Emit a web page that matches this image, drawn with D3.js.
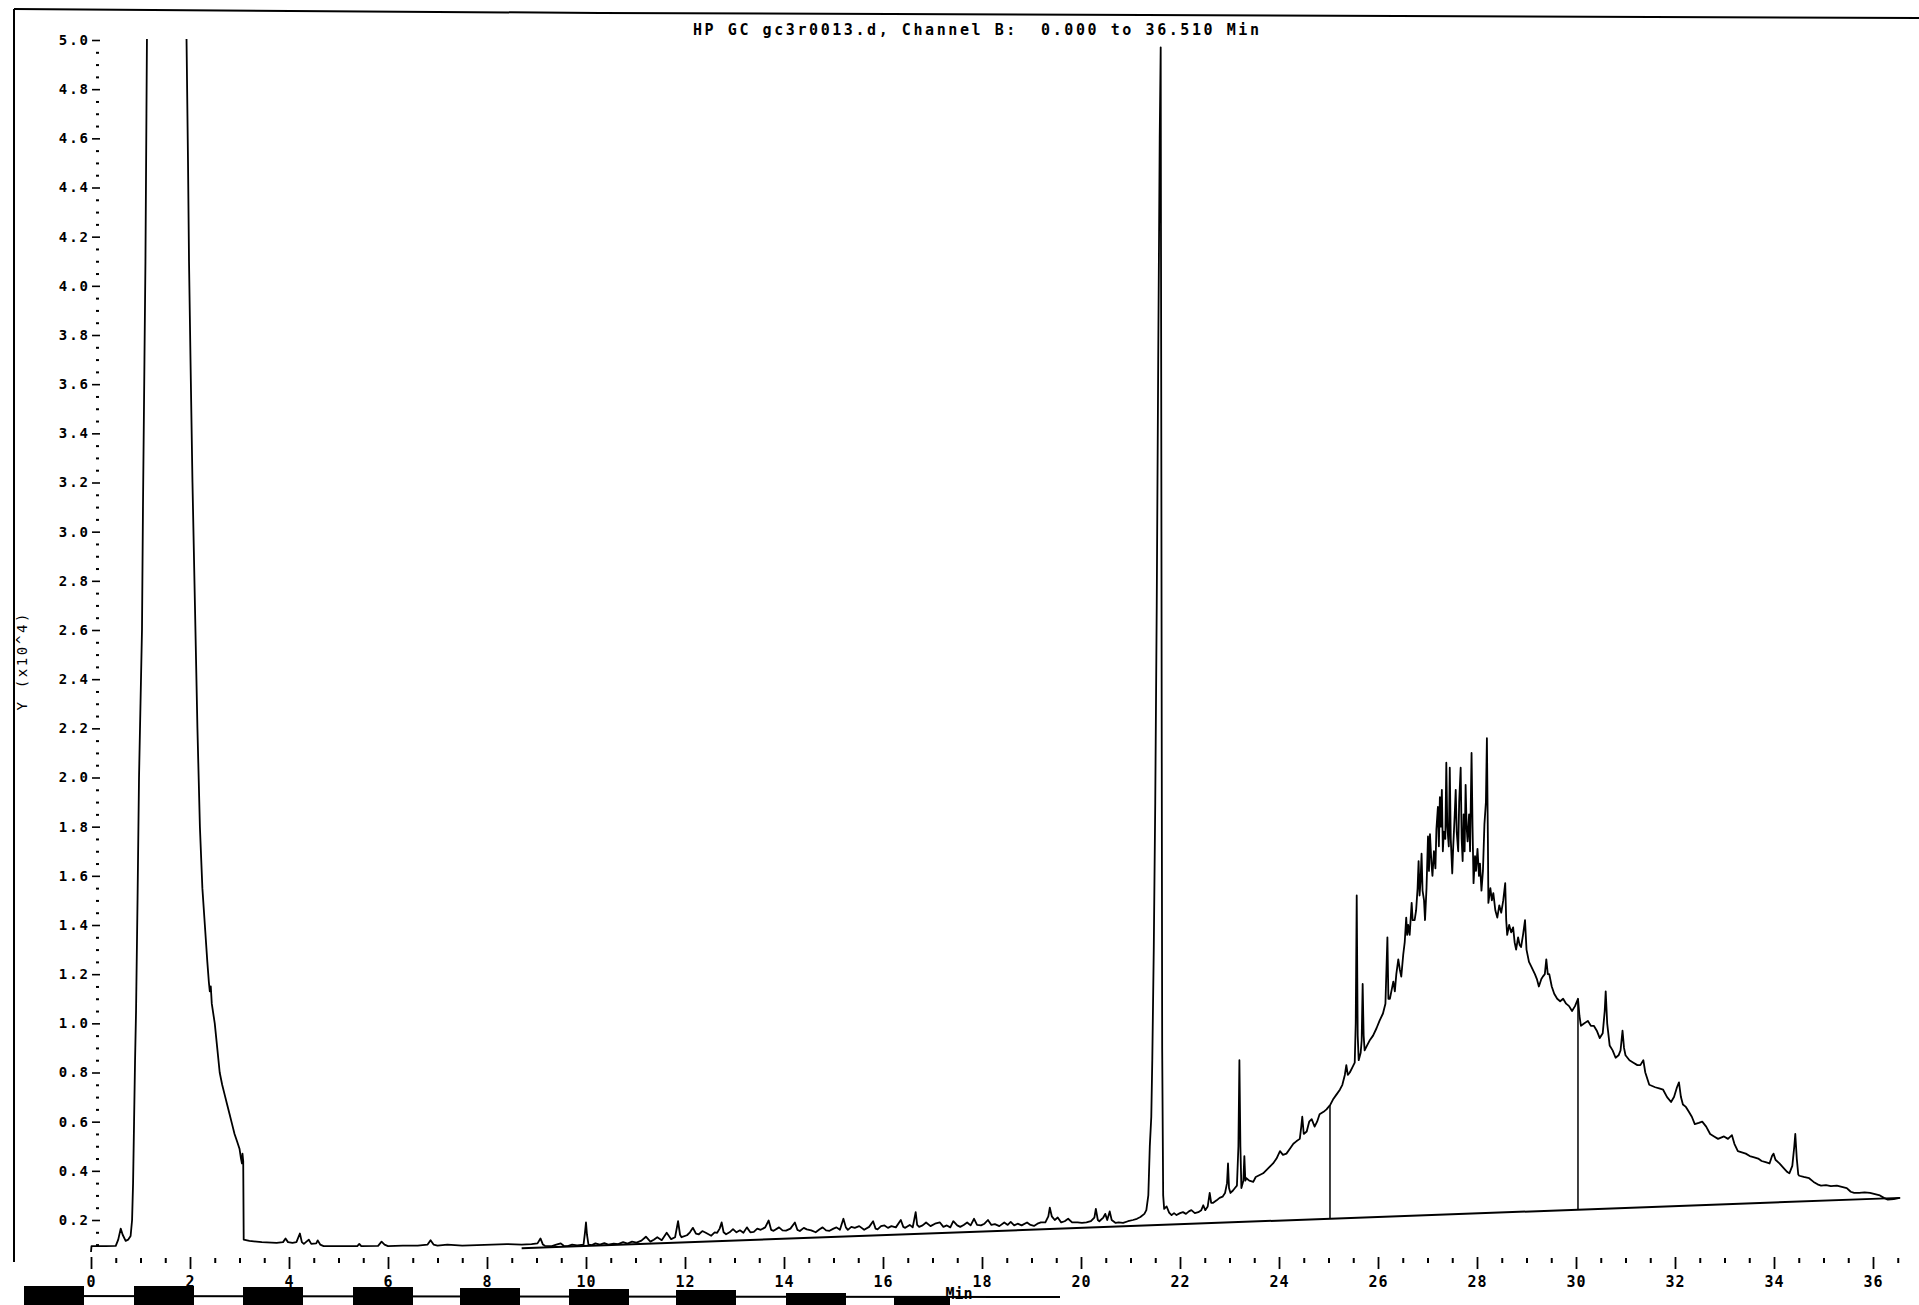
<!DOCTYPE html>
<html><head><meta charset="utf-8">
<script src="https://cdn.jsdelivr.net/npm/d3@7"></script>
<style>
html,body{margin:0;padding:0;background:#fff;}
svg{display:block;}
text{font-family:"DejaVu Sans Mono","Liberation Mono",monospace;fill:#000;}
</style></head><body>
<svg id="chart" width="1919" height="1305"></svg>
<script>
// ---------------- text ----------------
const titleText = "HP GC gc3r0013.d, Channel B:  0.000 to 36.510 Min";
const yAxisTitle = "Y (x10^4)";
const xAxisTitle = "Min";

// ---------------- ticks ----------------
const yTickValues = [0.2,0.4,0.6,0.8,1.0,1.2,1.4,1.6,1.8,2.0,2.2,2.4,2.6,2.8,3.0,3.2,3.4,3.6,3.8,4.0,4.2,4.4,4.6,4.8,5.0];
const xTickValues = [0,2,4,6,8,10,12,14,16,18,20,22,24,26,28,30,32,34,36];

// ---------------- signal (retention time [min], response [x10^4]) ----------------
const solventRegion = [
 [0.00,0.070],[0.01,0.094],[0.30,0.094],[0.50,0.095],[0.55,0.120],[0.60,0.165],[0.64,0.140],[0.70,0.115],
 [0.75,0.120],[0.80,0.135],[0.83,0.200],[0.85,0.350],[0.87,0.600],[0.89,0.850],[0.91,1.050],[0.94,1.500],
 [0.97,2.000],[1.00,2.300],[1.03,2.600],[1.05,3.100],[1.08,3.700],[1.10,4.100],[1.12,4.700],[1.13,5.000],
 [1.15,5.600],[1.50,6.000],[1.90,5.600],[1.93,5.000],[1.96,4.500],[1.98,4.100],[2.01,3.700],[2.05,3.200],
 [2.10,2.700],[2.15,2.200],[2.20,1.800],[2.25,1.550],[2.30,1.400],[2.35,1.250],[2.38,1.170],[2.40,1.130],
 [2.42,1.150],[2.44,1.080],[2.50,1.000],[2.55,0.900],[2.60,0.800],[2.65,0.750],[2.70,0.710],[2.75,0.670],
 [2.80,0.630],[2.85,0.590],[2.90,0.550],[2.95,0.520],[3.00,0.490],[3.03,0.450],[3.05,0.430],[3.06,0.470],
 [3.075,0.440],[3.085,0.120],[3.20,0.115],[3.45,0.110],[3.75,0.107],[3.88,0.110],[3.93,0.125],[3.98,0.110],
 [4.07,0.107],[4.15,0.110],[4.22,0.145],[4.26,0.110],[4.30,0.103],[4.40,0.120],[4.45,0.103],[4.55,0.105],
 [4.58,0.117],[4.63,0.100],[4.70,0.094],[5.38,0.094],[5.42,0.103],[5.46,0.094],[5.80,0.095],[5.87,0.112],
 [5.93,0.100],[6.00,0.094],[6.30,0.096],[6.60,0.096],[6.80,0.100],[6.86,0.118],[6.92,0.100],[7.00,0.096],
 [7.20,0.100],[7.50,0.096],[7.80,0.098],[8.10,0.100],[8.40,0.102],[8.70,0.100],[8.90,0.102],[9.02,0.105],
 [9.08,0.125],[9.13,0.100]
];
const midRegion = [
 [9.17,0.095],[9.31,0.094],[9.40,0.100],[9.49,0.105],[9.55,0.095],[9.63,0.094],[9.72,0.100],[9.82,0.097],
 [9.95,0.100],[9.98,0.150],[10.00,0.190],[10.02,0.140],[10.05,0.100],[10.12,0.098],[10.19,0.105],[10.28,0.100],
 [10.37,0.106],[10.45,0.100],[10.56,0.104],[10.65,0.102],[10.75,0.110],[10.84,0.104],[10.93,0.112],[11.02,0.108],
 [11.12,0.116],[11.21,0.132],[11.30,0.112],[11.37,0.120],[11.44,0.130],[11.53,0.118],[11.63,0.148],[11.72,0.122],
 [11.80,0.130],[11.86,0.195],[11.90,0.140],[11.93,0.130],[12.04,0.138],[12.10,0.150],[12.16,0.168],[12.22,0.145],
 [12.28,0.142],[12.35,0.155],[12.42,0.148],[12.53,0.136],[12.60,0.150],[12.65,0.148],[12.70,0.165],[12.74,0.190],
 [12.78,0.150],[12.83,0.142],[12.90,0.150],[12.97,0.163],[13.04,0.150],[13.11,0.158],[13.18,0.148],[13.25,0.170],
 [13.32,0.150],[13.39,0.152],[13.46,0.165],[13.53,0.160],[13.62,0.170],[13.69,0.198],[13.74,0.160],[13.79,0.156],
 [13.90,0.170],[13.97,0.158],[14.04,0.157],[14.13,0.165],[14.22,0.190],[14.27,0.160],[14.32,0.155],[14.40,0.168],
 [14.46,0.162],[14.55,0.158],[14.64,0.150],[14.72,0.162],[14.78,0.170],[14.85,0.158],[14.92,0.156],[15.00,0.165],
 [15.06,0.170],[15.13,0.160],[15.20,0.205],[15.25,0.170],[15.29,0.160],[15.36,0.172],[15.43,0.168],[15.52,0.175],
 [15.62,0.160],[15.72,0.172],[15.80,0.195],[15.85,0.165],[15.89,0.162],[15.96,0.175],[16.03,0.178],[16.10,0.168],
 [16.17,0.175],[16.26,0.170],[16.36,0.200],[16.41,0.172],[16.45,0.168],[16.54,0.180],[16.60,0.170],[16.66,0.232],
 [16.69,0.180],[16.73,0.172],[16.80,0.178],[16.87,0.190],[16.96,0.175],[17.05,0.185],[17.15,0.190],[17.22,0.172],
 [17.29,0.178],[17.36,0.170],[17.42,0.195],[17.50,0.178],[17.56,0.172],[17.63,0.180],[17.70,0.190],[17.77,0.178],
 [17.84,0.205],[17.90,0.180],[17.98,0.178],[18.05,0.185],[18.12,0.200],[18.19,0.180],[18.26,0.183],[18.35,0.175],
 [18.45,0.190],[18.52,0.180],[18.58,0.192],[18.65,0.178],[18.72,0.185],[18.80,0.178],[18.91,0.190],[18.98,0.180],
 [19.05,0.176],[19.12,0.185],[19.19,0.190],[19.28,0.190],[19.34,0.215],[19.37,0.250],[19.41,0.215],[19.47,0.200],
 [19.53,0.210],[19.60,0.190],[19.67,0.195],[19.74,0.205],[19.82,0.190],[19.93,0.190],[20.02,0.188],[20.11,0.190],
 [20.20,0.195],[20.27,0.210],[20.30,0.245],[20.34,0.200],[20.37,0.195],[20.45,0.210],[20.49,0.225],[20.53,0.200],
 [20.58,0.235],[20.62,0.200],[20.70,0.188],[20.76,0.190],[20.85,0.188],[20.95,0.195],[21.05,0.200],[21.13,0.205],
 [21.20,0.212],[21.28,0.225],[21.32,0.240]
];
const mainPeak = [
 [21.36,0.300],[21.39,0.500],[21.42,0.620],[21.44,0.850],[21.47,1.300],[21.50,1.900],[21.53,2.700],[21.56,3.700],
 [21.59,4.600],[21.61,4.970],[21.625,3.000],[21.64,0.900],[21.66,0.300],[21.68,0.245]
];
const humpRegion = [
 [21.73,0.255],[21.78,0.230],[21.83,0.220],[21.88,0.228],[21.93,0.220],[22.00,0.228],[22.06,0.232],
 [22.12,0.225],[22.18,0.235],[22.23,0.240],[22.30,0.228],[22.37,0.232],[22.43,0.240],[22.47,0.260],[22.51,0.240],
 [22.56,0.255],[22.60,0.310],[22.63,0.270],[22.67,0.270],[22.74,0.280],[22.80,0.290],[22.86,0.295],[22.91,0.310],
 [22.95,0.350],[22.97,0.430],[22.99,0.330],[23.02,0.310],[23.07,0.320],[23.11,0.330],[23.15,0.340],[23.18,0.500],
 [23.20,0.850],[23.22,0.500],[23.24,0.330],[23.28,0.360],[23.30,0.460],[23.32,0.360],[23.34,0.370],[23.40,0.360],
 [23.48,0.355],[23.53,0.375],[23.58,0.380],[23.63,0.385],[23.68,0.390],[23.73,0.400],[23.78,0.410],[23.83,0.420],
 [23.88,0.430],[23.95,0.450],[24.02,0.480],[24.08,0.465],[24.15,0.470],[24.22,0.490],[24.29,0.510],[24.35,0.520],
 [24.42,0.530],[24.45,0.580],[24.47,0.620],[24.50,0.550],[24.56,0.560],[24.61,0.600],[24.66,0.610],[24.72,0.580],
 [24.77,0.600],[24.82,0.630],[24.90,0.640],[24.96,0.650],[25.04,0.670],[25.09,0.690],[25.16,0.710],[25.23,0.730],
 [25.28,0.750],[25.33,0.790],[25.36,0.830],[25.39,0.790],[25.43,0.800],[25.48,0.820],[25.53,0.840],[25.55,1.000],
 [25.57,1.520],[25.59,0.950],[25.61,0.850],[25.65,0.880],[25.67,0.930],[25.69,1.160],[25.71,0.950],[25.73,0.890],
 [25.78,0.910],[25.83,0.930],[25.90,0.950],[25.97,0.980],[26.03,1.010],[26.10,1.040],[26.15,1.080],[26.19,1.350],
 [26.21,1.100],[26.24,1.100],[26.28,1.140],[26.31,1.170],[26.34,1.130],[26.37,1.200],[26.41,1.260],[26.44,1.220],
 [26.47,1.190],[26.51,1.280],[26.54,1.330],[26.57,1.430],[26.59,1.360],[26.61,1.400],[26.64,1.360],[26.68,1.490],
 [26.70,1.420],[26.74,1.420],[26.77,1.460],[26.80,1.550],[26.82,1.660],[26.84,1.520],[26.86,1.580],[26.88,1.690],
 [26.90,1.540],[26.93,1.500],[26.95,1.420],[26.98,1.550],[27.01,1.760],[27.03,1.620],[27.05,1.770],[27.08,1.650],
 [27.10,1.600],[27.13,1.700],[27.16,1.630],[27.18,1.790],[27.21,1.880],[27.23,1.720],[27.25,1.920],[27.27,1.800],
 [27.29,1.950],[27.31,1.700],[27.33,1.780],[27.36,1.750],[27.38,2.060],[27.40,1.800],[27.43,1.720],[27.45,2.040],
 [27.47,1.750],[27.50,1.610],[27.52,1.720],[27.55,1.850],[27.57,1.950],[27.59,1.780],[27.62,1.700],[27.64,1.900],
 [27.67,2.040],[27.69,1.750],[27.71,1.660],[27.73,1.850],[27.75,1.700],[27.77,1.970],[27.79,1.800],[27.81,1.740],
 [27.84,1.850],[27.86,1.700],[27.89,2.100],[27.91,1.800],[27.93,1.570],[27.96,1.680],[27.98,1.620],[28.01,1.710],
 [28.04,1.600],[28.06,1.650],[28.09,1.540],[28.12,1.620],[28.15,1.810],[28.18,1.900],[28.20,2.160],[28.22,1.750],
 [28.23,1.490],[28.27,1.550],[28.30,1.500],[28.33,1.530],[28.37,1.460],[28.41,1.430],[28.45,1.480],[28.49,1.450],
 [28.53,1.500],[28.57,1.570],[28.59,1.420],[28.61,1.360],[28.65,1.400],[28.69,1.370],[28.73,1.390],[28.76,1.330],
 [28.79,1.300],[28.83,1.350],[28.86,1.320],[28.89,1.310],[28.93,1.360],[28.97,1.420],[29.00,1.300],[29.05,1.250],
 [29.10,1.230],[29.17,1.200],[29.21,1.180],[29.25,1.150],[29.30,1.180],[29.33,1.190],[29.37,1.200],[29.40,1.260],
 [29.43,1.200],[29.46,1.200],[29.51,1.150],[29.56,1.120],[29.62,1.100],[29.68,1.090],[29.74,1.100],[29.80,1.080],
 [29.86,1.070],[29.92,1.050],[29.98,1.070],[30.04,1.100],[30.07,1.030],[30.10,0.990],[30.17,1.000],[30.24,1.010],
 [30.30,0.990],[30.36,0.990],[30.42,0.970],[30.48,0.940],[30.54,0.960],[30.58,1.050],[30.60,1.130],[30.63,1.000],
 [30.68,0.910],[30.74,0.890],[30.80,0.860],[30.86,0.870],[30.90,0.890],[30.94,0.970],[30.97,0.900],[31.00,0.870],
 [31.08,0.850],[31.16,0.840],[31.24,0.830],[31.30,0.830],[31.36,0.850],[31.40,0.800],[31.48,0.750],[31.54,0.745],
 [31.60,0.740],[31.68,0.735],[31.76,0.730],[31.84,0.700],[31.92,0.680],[31.98,0.700],[32.04,0.740],[32.08,0.760],
 [32.12,0.700],[32.16,0.670],[32.22,0.660],[32.28,0.640],[32.34,0.620],[32.40,0.590],[32.48,0.595],[32.55,0.600],
 [32.63,0.580],[32.71,0.550],[32.79,0.540],[32.87,0.530],[32.93,0.535],[32.99,0.540],[33.07,0.530],[33.15,0.545],
 [33.20,0.510],[33.27,0.480],[33.35,0.475],[33.43,0.470],[33.51,0.460],[33.60,0.455],[33.68,0.450],[33.75,0.440],
 [33.83,0.435],[33.91,0.430],[33.96,0.460],[33.99,0.470],[34.03,0.445],[34.11,0.430],[34.20,0.410],[34.27,0.395],
 [34.31,0.390],[34.37,0.420],[34.41,0.500],[34.43,0.550],[34.46,0.450],[34.49,0.385],[34.51,0.380],[34.60,0.375],
 [34.71,0.370],[34.80,0.355],[34.88,0.345],[34.95,0.340],[35.05,0.342],[35.15,0.338],[35.27,0.340],[35.37,0.335],
 [35.47,0.330],[35.55,0.315],[35.62,0.310],[35.72,0.310],[35.83,0.312],[35.94,0.310],[36.04,0.305],[36.14,0.300],
 [36.22,0.290],[36.30,0.283],[36.42,0.285],[36.54,0.290]
];
// integrator baseline and the two drop-line marks
const baselineSegment = [[8.70,0.085],[36.55,0.290]];
const integrationMarks = [25.03, 30.04];

// ---------------- drawing ----------------
const svg = d3.select("#chart");
const x = d3.scaleLinear().domain([0, 36]).range([91, 1873]);
const y = d3.scaleLinear().domain([0.2, 5.0]).range([1220, 40]);

svg.append("rect").attr("width",1919).attr("height",1305).attr("fill","#fff");

// frame lines of the scanned print
svg.append("path").attr("d","M14,9 L600,13 L1919,18").attr("fill","none").attr("stroke","#000").attr("stroke-width",2);
svg.append("line").attr("x1",14).attr("y1",9).attr("x2",14).attr("y2",1262).attr("stroke","#000").attr("stroke-width",2);

// title
svg.append("text").attr("x",693).attr("y",35).attr("font-size",15).attr("font-weight","bold")
  .attr("textLength",566).attr("lengthAdjust","spacing").style("white-space","pre").text(titleText);

// y axis title
svg.append("text").attr("transform","translate(27,662) rotate(-90)").attr("text-anchor","middle")
  .attr("font-size",14).attr("textLength",97).attr("lengthAdjust","spacing").text(yAxisTitle);

// y axis (ticks only)
const yMinor = d3.range(2, 101).map(i => i*0.05).filter(v => Math.abs(v*5 - Math.round(v*5)) > 1e-6);
const gyMinor = svg.append("g").attr("transform","translate(99,0)")
  .call(d3.axisLeft(y).tickValues(yMinor).tickSize(3).tickFormat(""));
gyMinor.select(".domain").remove();
gyMinor.selectAll("line").attr("stroke","#000").attr("stroke-width",2);

const gy = svg.append("g").attr("transform","translate(100,0)")
  .call(d3.axisLeft(y).tickValues(yTickValues).tickFormat(d3.format(".1f")).tickSize(8).tickPadding(2));
gy.select(".domain").remove();
gy.selectAll("line").attr("stroke","#000").attr("stroke-width",1.6);
gy.selectAll("text").attr("font-size",14).attr("font-weight","bold").attr("letter-spacing","2px")
  .attr("font-family","DejaVu Sans Mono").attr("fill","#000");

// x axis (ticks only)
const xMinor = d3.range(1, 74).map(i => i*0.5).filter(v => v % 2 !== 0);
const gxMinor = svg.append("g").attr("transform","translate(0,1258)")
  .call(d3.axisBottom(x).tickValues(xMinor).tickSize(5).tickFormat(""));
gxMinor.select(".domain").remove();
gxMinor.selectAll("line").attr("stroke","#000").attr("stroke-width",2);

const gx = svg.append("g").attr("transform","translate(0,1257)")
  .call(d3.axisBottom(x).tickValues(xTickValues).tickSize(12).tickPadding(7).tickFormat(d3.format("d")));
gx.select(".domain").remove();
gx.selectAll("line").attr("stroke","#000").attr("stroke-width",1.8);
gx.selectAll("text").attr("font-size",15).attr("font-weight","bold").attr("letter-spacing","1px")
  .attr("font-family","DejaVu Sans Mono").attr("fill","#000");

// chart clip (values over full scale are cut at the top)
svg.append("clipPath").attr("id","plotClip").append("rect")
  .attr("x",0).attr("y",y(5.0)-1).attr("width",1919).attr("height",1305);

const plot = svg.append("g").attr("clip-path","url(#plotClip)");
const signal = solventRegion.concat(midRegion, mainPeak, humpRegion);
const line = d3.line().x(d => x(d[0])).y(d => y(d[1]));

// integrator baseline
plot.append("path").datum(baselineSegment).attr("d", line)
  .attr("fill","none").attr("stroke","#000").attr("stroke-width",2);

// drop lines
const bis = d3.bisector(d => d[0]).left;
function signalAt(t){
  const i = bis(signal, t);
  const a = signal[i-1], b = signal[i];
  return a[1] + (b[1]-a[1])*(t-a[0])/(b[0]-a[0]);
}
function baseAt(t){
  const [a,b] = baselineSegment;
  return a[1] + (b[1]-a[1])*(t-a[0])/(b[0]-a[0]);
}
plot.selectAll(".drop").data(integrationMarks).join("line").attr("class","drop")
  .attr("x1", d => x(d)).attr("x2", d => x(d))
  .attr("y1", d => y(baseAt(d))).attr("y2", d => y(signalAt(d)))
  .attr("stroke","#000").attr("stroke-width",1.5);

// chromatogram trace
plot.append("path").datum(signal).attr("d", line)
  .attr("fill","none").attr("stroke","#000").attr("stroke-width",1.8).attr("stroke-linejoin","round");

// bottom strip of the print (event bars) and x title
const strip = svg.append("g");
const barLefts = [24,134,243,353,460,569,676,786,894];
const barTops = [1286,1286,1287,1287,1288,1289,1290,1293,1297];
strip.append("line").attr("x1",24).attr("x2",1060).attr("y1",1296).attr("y2",1297)
  .attr("stroke","#000").attr("stroke-width",2);
barLefts.forEach((bx,i) => {
  strip.append("rect").attr("x",bx).attr("y",barTops[i]).attr("width",i<8?60:56).attr("height",1305-barTops[i]).attr("fill","#000");
});
svg.append("text").attr("x",959).attr("y",1299).attr("text-anchor","middle")
  .attr("font-size",15).attr("font-weight","bold").text(xAxisTitle);
</script>
</body></html>
